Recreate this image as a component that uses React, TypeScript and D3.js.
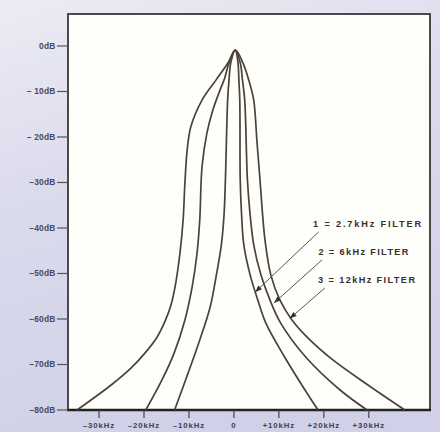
import React from "react";
import * as d3 from "d3";

// ---- data (frequency offset in kHz, attenuation in dB) ----
const PEAK: [number, number] = [0.3, -0.9];

const filter1Left: [number, number][] = [
  [-13.2, -80], [-10.2, -71.9], [-7.6, -64.6], [-5.3, -57.4], [-3.9, -50.3],
  [-2.8, -43.7], [-2.2, -37.1], [-1.9, -29.5], [-1.4, -11.9], [-1.1, -7.5], [-0.7, -3.7],
];
const filter1Right: [number, number][] = [
  [0.9, -3.7], [1.1, -7.5], [1.3, -11.9], [1.4, -29.5], [1.7, -37.1],
  [2.2, -43.7], [3.6, -50.3], [5.3, -55.8], [7.1, -60.9], [11.3, -68.4],
  [15.8, -75.6], [18.7, -80],
];
const filter2Left: [number, number][] = [
  [-19.6, -80], [-16.0, -73.4], [-13.3, -67.5], [-10.9, -60.2], [-9.3, -53],
  [-8.2, -45.5], [-7.6, -38.2], [-7.1, -26.6], [-6.0, -19.1], [-4.7, -14.1],
  [-3.1, -9.7], [-2.1, -7.2], [-1.1, -3.7],
];
const filter2Right: [number, number][] = [
  [1.4, -3.7], [1.9, -7.5], [2.4, -11.9], [3.0, -29.5], [3.6, -37.1],
  [4.4, -43.7], [6.0, -50.3], [8.0, -55.8], [10.4, -60.9], [16.0, -68.4],
  [23.6, -75.6], [29.6, -80],
];
const filter3Left: [number, number][] = [
  [-34.9, -80], [-27.3, -74.5], [-22.9, -70.8], [-19.8, -67.5], [-17.1, -64],
  [-15.2, -60.2], [-14.0, -56.9], [-13.1, -53], [-12.0, -45.5], [-11.3, -38.2],
  [-10.9, -30.1], [-10.4, -22.9], [-9.6, -17.8], [-7.1, -11.9], [-4.0, -7.5], [-1.3, -3.7],
];
const filter3Right: [number, number][] = [
  [2.0, -3.7], [3.3, -7.5], [4.4, -11.9], [5.1, -20.7], [5.8, -29.5],
  [6.9, -42.6], [8.2, -50.3], [10.2, -55.8], [12.9, -60.2], [16.9, -64.6],
  [22.0, -69.0], [29.8, -74.5], [38.0, -80],
];

const DB_TICKS = [0, -10, -20, -30, -40, -50, -60, -70, -80];
const DB_LABELS = ["0dB", "– 10dB", "– 20dB", "–30dB", "–40dB", "–50dB", "–60dB", "–70dB", "–80dB"];
const KHZ_TICKS = [-30, -20, -10, 0, 10, 20, 30];
const KHZ_LABELS = ["–30kHz", "–20kHz", "–10kHz", "0", "+10kHz", "+20kHz", "+30kHz"];

const FILTER_LABELS = ["1 = 2.7kHz FILTER", "2 = 6kHz FILTER", "3 = 12kHz FILTER"];
const LABEL_POS: [number, number][] = [[17.6, -39.8], [18.8, -45.9], [18.7, -52.1]];
const LABEL_LEN = [108, 90, 97];
const ARROW_FROM: [number, number][] = [[18.8, -40.9], [19.6, -47.0], [20.2, -53.2]];
const ARROW_TO: [number, number][] = [[4.7, -54.1], [8.9, -56.5], [12.4, -59.9]];

// ---- layout ----
const W = 440, H = 432;
const X0 = 68, X1 = 430, Y0 = 14, Y1 = 410;

export default function App() {
  const x = d3.scaleLinear().domain([-36.9, 43.6]).range([X0, X1]);
  const y = d3.scaleLinear().domain([-80, 7.03]).range([Y1, Y0]);
  const line = d3
    .line<[number, number]>()
    .x((d) => x(d[0]))
    .y((d) => y(d[1]))
    .curve(d3.curveCatmullRom.alpha(0.5));

  const curves = [
    [...filter1Left, PEAK, ...filter1Right],
    [...filter2Left, PEAK, ...filter2Right],
    [...filter3Left, PEAK, ...filter3Right],
  ];

  const arrowHead = (from: [number, number], to: [number, number]) => {
    const fx = x(from[0]), fy = y(from[1]), tx = x(to[0]), ty = y(to[1]);
    const a = Math.atan2(ty - fy, tx - fx);
    const L = 7, Wd = 2.6;
    const bx = tx - L * Math.cos(a), by = ty - L * Math.sin(a);
    const px = -Math.sin(a) * Wd, py = Math.cos(a) * Wd;
    return `M${tx},${ty}L${bx + px},${by + py}L${bx - px},${by - py}Z`;
  };

  const font = "'Liberation Sans', Arial, sans-serif";

  return (
    <svg
      width={W}
      height={H}
      style={{ position: "absolute", left: 0, top: 0 }}
      fontFamily={font}
    >
      <defs>
        <linearGradient id="bg" x1="0" y1="0" x2="0.3" y2="1">
          <stop offset="0" stopColor="#ececf4" />
          <stop offset="0.4" stopColor="#dcdcee" />
          <stop offset="1" stopColor="#d0d0e8" />
        </linearGradient>
      </defs>
      <rect x={0} y={0} width={W} height={H} fill="url(#bg)" />
      <rect x={X0} y={Y0} width={X1 - X0} height={Y1 - Y0} fill="#fefefb" />

      {/* frame */}
      <path
        d={`M${X0},${Y1}V${Y0}H${X1}V${Y1}`}
        fill="none"
        stroke="#4a4a4a"
        strokeWidth={2}
      />
      <line x1={X0 - 1} x2={X1 + 1} y1={Y1} y2={Y1} stroke="#222" strokeWidth={2.6} />

      {/* y ticks */}
      {DB_TICKS.map((t, i) => (
        <g key={t}>
          <line x1={57} x2={X0} y1={y(t)} y2={y(t)} stroke="#555" strokeWidth={1.2} />
          <text
            x={55.5}
            y={y(t) + 3}
            textAnchor="end"
            fontSize={8.4}
            fontWeight="bold"
            letterSpacing={0.2}
            fill="#4a4a58"
          >
            {DB_LABELS[i]}
          </text>
        </g>
      ))}

      {/* x ticks */}
      {KHZ_TICKS.map((t, i) => (
        <g key={t}>
          <line x1={x(t)} x2={x(t)} y1={Y1} y2={418} stroke="#444" strokeWidth={1.2} />
          <text
            x={x(t)}
            y={428}
            textAnchor="middle"
            fontSize={7.8}
            fontWeight="bold"
            letterSpacing={0.9}
            fill="#3e3e4c"
          >
            {KHZ_LABELS[i]}
          </text>
        </g>
      ))}

      {/* response curves */}
      {curves.map((c, i) => (
        <path
          key={i}
          d={line(c) || ""}
          fill="none"
          stroke="#4c4236"
          strokeWidth={1.7}
          strokeLinejoin="round"
        />
      ))}

      {/* annotations */}
      {FILTER_LABELS.map((lab, i) => (
        <g key={lab}>
          <line
            x1={x(ARROW_FROM[i][0])}
            y1={y(ARROW_FROM[i][1])}
            x2={x(ARROW_TO[i][0])}
            y2={y(ARROW_TO[i][1])}
            stroke="#555"
            strokeWidth={1}
          />
          <path d={arrowHead(ARROW_FROM[i], ARROW_TO[i])} fill="#333" />
          <text
            x={x(LABEL_POS[i][0])}
            y={y(LABEL_POS[i][1])}
            fontSize={9.2}
            fontWeight="bold"
            textLength={LABEL_LEN[i]}
            lengthAdjust="spacing"
            fill="#3a3030"
          >
            {lab}
          </text>
        </g>
      ))}
    </svg>
  );
}
